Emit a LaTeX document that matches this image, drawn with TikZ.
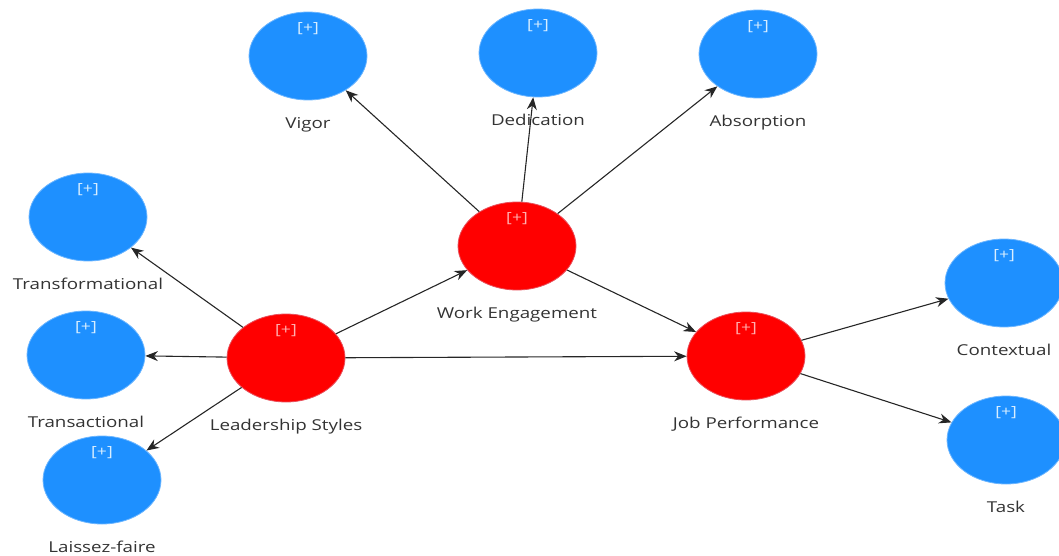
\documentclass[tikz,border=0pt]{standalone}
\usepackage{fontspec}
\setmainfont{Open Sans}
\newfontfamily\widefont[FakeStretch=1.25]{Open Sans}
\usetikzlibrary{shapes.geometric,arrows.meta}
\definecolor{LVBlue}{HTML}{1E90FF}
\definecolor{LVBlueEdge}{HTML}{6CB6FF}
\definecolor{LVRed}{HTML}{FF0000}
\definecolor{LVRedEdge}{HTML}{E8505C}
\definecolor{LVText}{HTML}{333333}
\definecolor{PlusBlue}{HTML}{D8EEFF}
\definecolor{PlusRed}{HTML}{FFB0B0}

\begin{document}
\begin{tikzpicture}[x=1pt,y=-1pt,>={Stealth[length=12.5pt,width=10pt]}]
  \tikzstyle{plus}=[anchor=center,label distance=-17pt,inner sep=0pt,
    font=\widefont\fontsize{14}{16}\selectfont]
  \tikzstyle{lbl}=[text=LVText,inner sep=0pt,label distance=16.5pt,
    text height=11pt,text depth=3pt,font=\widefont\fontsize{15}{17}\selectfont]
  \tikzstyle{lv}=[ellipse,minimum width=118pt,minimum height=88pt,
    inner sep=0pt,line width=0.8pt]
  \tikzstyle{ind}=[lv,fill=LVBlue,draw=LVBlueEdge,
    label={[plus,text=PlusBlue]north:{[+]}}]
  \tikzstyle{con}=[lv,fill=LVRed,draw=LVRedEdge,
    label={[plus,text=PlusRed]north:{[+]}}]
  \tikzstyle{path}=[->,draw=black!85,line width=1.1pt]
  \useasboundingbox (0,0) rectangle (1059,556);

  % constructs
  \node[con,label={[lbl]below:Leadership Styles}] (ls) at (286,358) {};
  \node[con,label={[lbl]below:Work Engagement}] (we) at (517,246) {};
  \node[con,label={[lbl]below:Job Performance}] (jp) at (746,356) {};

  % dimensions
  \node[ind,label={[lbl]below:Vigor}] (vig) at (308,56) {};
  \node[ind,label={[lbl]below:Dedication}] (ded) at (538,53) {};
  \node[ind,label={[lbl]below:Absorption}] (abs) at (758,54) {};
  \node[ind,label={[lbl]below:Transformational}] (tf) at (88,217) {};
  \node[ind,label={[lbl]below:Transactional}] (ta) at (86,355) {};
  \node[ind,label={[lbl]below:Laissez-faire}] (lf) at (102,480) {};
  \node[ind,label={[lbl]below:Contextual}] (ctx) at (1004,283) {};
  \node[ind,label={[lbl]below:Task}] (task) at (1006,440) {};

  \draw[path] (ls) -- (tf);
  \draw[path] (ls) -- (ta);
  \draw[path] (ls) -- (lf);
  \draw[path] (ls) -- (we);
  \draw[path] (ls) -- (jp);
  \draw[path] (we) -- (vig);
  \draw[path] (we) -- (ded);
  \draw[path] (we) -- (abs);
  \draw[path] (we) -- (jp);
  \draw[path] (jp) -- (ctx);
  \draw[path] (jp) -- (task);
\end{tikzpicture}
\end{document}
